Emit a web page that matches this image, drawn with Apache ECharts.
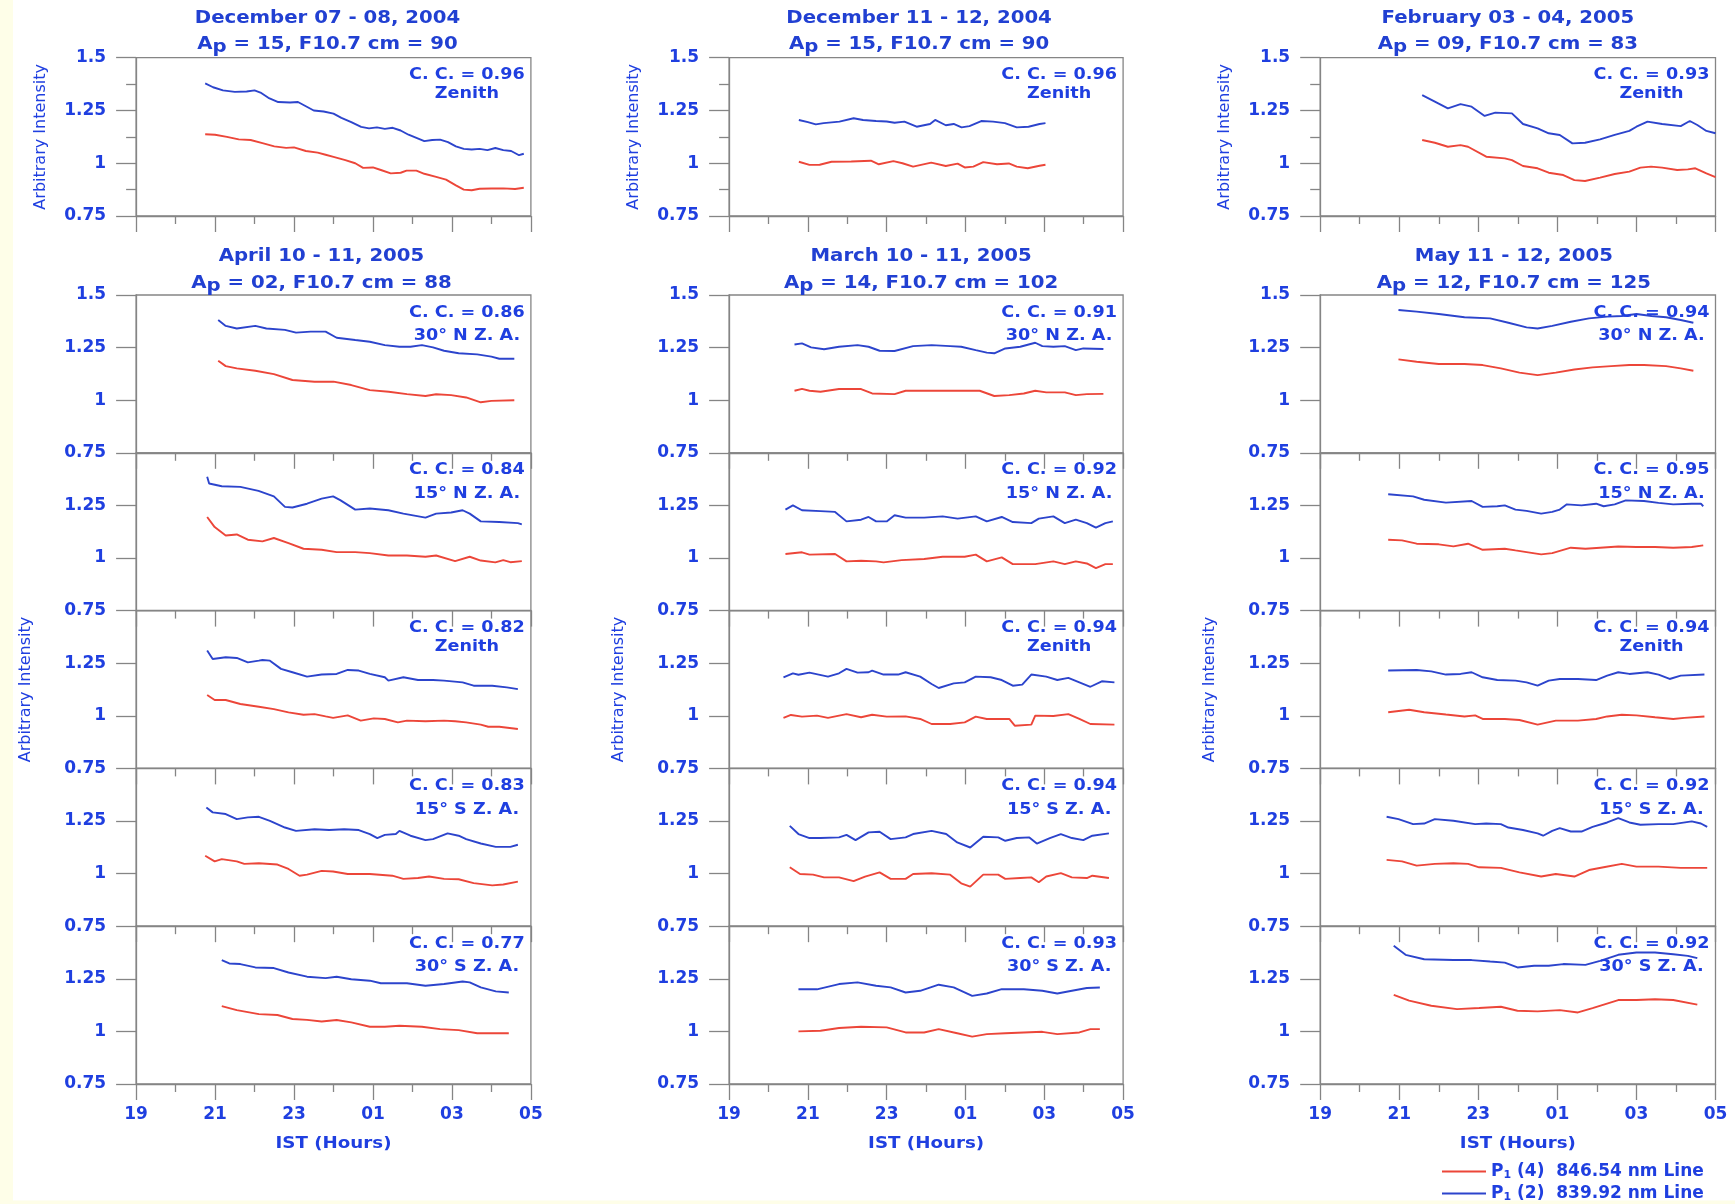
<!DOCTYPE html>
<html>
<head>
<meta charset="utf-8">
<script src="https://cdn.jsdelivr.net/npm/echarts@6/dist/echarts.min.js"></script>
<style>
  html, body { margin: 0; padding: 0; background: #fff; }
  #main { width: 1735px; height: 1204px; }
</style>
</head>
<body>
<div id="main"></div>
<script>
// [IST hour, intensity]; hours past midnight run on as 24..29
var dec0708Blue = [[20.75,1.378],[20.95,1.36],[21.2,1.345],[21.5,1.338],[21.8,1.34],[22.0,1.345],[22.15,1.335],[22.35,1.31],[22.6,1.29],[22.9,1.288],[23.1,1.29],[23.3,1.27],[23.5,1.25],[23.75,1.245],[24.0,1.235],[24.2,1.215],[24.45,1.195],[24.7,1.172],[24.9,1.165],[25.1,1.17],[25.3,1.163],[25.5,1.168],[25.7,1.155],[25.9,1.135],[26.1,1.12],[26.3,1.105],[26.5,1.11],[26.7,1.112],[26.9,1.1],[27.1,1.08],[27.3,1.068],[27.5,1.065],[27.7,1.068],[27.9,1.062],[28.1,1.072],[28.3,1.062],[28.5,1.058],[28.7,1.038],[28.82,1.045]];
var dec0708Red = [[20.75,1.137],[21.0,1.135],[21.3,1.125],[21.6,1.113],[21.9,1.11],[22.2,1.095],[22.5,1.08],[22.8,1.073],[23.0,1.075],[23.3,1.058],[23.6,1.05],[23.8,1.04],[24.0,1.03],[24.3,1.015],[24.55,1.0],[24.75,0.978],[25.0,0.98],[25.2,0.968],[25.45,0.952],[25.7,0.955],[25.85,0.965],[26.1,0.965],[26.3,0.95],[26.6,0.935],[26.85,0.922],[27.1,0.895],[27.3,0.875],[27.5,0.872],[27.7,0.879],[28.0,0.88],[28.3,0.881],[28.6,0.878],[28.82,0.884]];
var dec1112Blue = [[20.77,1.205],[21.0,1.195],[21.2,1.184],[21.4,1.19],[21.8,1.197],[22.16,1.213],[22.4,1.205],[22.73,1.2],[23.0,1.198],[23.2,1.192],[23.45,1.197],[23.76,1.173],[24.1,1.186],[24.23,1.205],[24.5,1.18],[24.7,1.186],[24.9,1.17],[25.1,1.176],[25.4,1.2],[25.7,1.197],[26.0,1.19],[26.3,1.17],[26.6,1.173],[26.88,1.186],[27.03,1.19]];
var dec1112Red = [[20.77,1.007],[21.04,0.992],[21.3,0.993],[21.6,1.007],[22.1,1.008],[22.6,1.012],[22.8,0.995],[23.17,1.01],[23.4,1.0],[23.67,0.984],[24.13,1.003],[24.5,0.987],[24.8,0.998],[24.98,0.98],[25.2,0.984],[25.45,1.005],[25.8,0.995],[26.1,0.999],[26.3,0.984],[26.58,0.976],[26.88,0.988],[27.03,0.993]];
var feb0304Blue = [[21.58,1.323],[21.9,1.292],[22.23,1.26],[22.55,1.28],[22.83,1.268],[23.16,1.224],[23.43,1.24],[23.85,1.236],[24.13,1.186],[24.5,1.165],[24.78,1.142],[25.06,1.134],[25.38,1.094],[25.7,1.097],[26.08,1.113],[26.45,1.134],[26.82,1.153],[27.0,1.173],[27.28,1.197],[27.65,1.186],[28.12,1.176],[28.35,1.2],[28.54,1.181],[28.77,1.153],[29.0,1.142]];
var feb0304Red = [[21.58,1.11],[21.9,1.097],[22.23,1.078],[22.55,1.086],[22.74,1.078],[23.2,1.031],[23.67,1.023],[23.85,1.015],[24.13,0.987],[24.5,0.976],[24.78,0.955],[25.15,0.944],[25.43,0.92],[25.7,0.916],[26.08,0.932],[26.45,0.949],[26.82,0.96],[27.1,0.979],[27.37,0.984],[27.65,0.979],[28.03,0.968],[28.3,0.971],[28.49,0.976],[28.77,0.952],[29.0,0.934]];

var apr30nBlue = [[21.08,1.381],[21.27,1.353],[21.55,1.341],[22.02,1.353],[22.3,1.341],[22.77,1.334],[23.05,1.321],[23.42,1.326],[23.8,1.326],[24.08,1.297],[24.55,1.286],[24.92,1.278],[25.3,1.262],[25.67,1.254],[25.95,1.254],[26.24,1.262],[26.52,1.251],[26.8,1.235],[27.17,1.223],[27.64,1.218],[28.0,1.207],[28.2,1.197],[28.58,1.197]];
var apr30nRed = [[21.08,1.188],[21.27,1.162],[21.55,1.151],[22.02,1.14],[22.49,1.124],[22.96,1.096],[23.52,1.088],[24.0,1.088],[24.45,1.072],[24.92,1.048],[25.4,1.04],[25.86,1.029],[26.33,1.02],[26.6,1.028],[26.98,1.024],[27.36,1.013],[27.73,0.99],[28.0,0.997],[28.58,1.0]];
var apr15nBlue = [[20.8,1.386],[20.85,1.354],[21.17,1.341],[21.64,1.338],[22.1,1.319],[22.49,1.293],[22.77,1.243],[22.96,1.24],[23.33,1.258],[23.7,1.282],[23.99,1.293],[24.17,1.275],[24.55,1.23],[24.92,1.235],[25.39,1.227],[25.77,1.211],[26.33,1.192],[26.6,1.211],[26.98,1.216],[27.27,1.227],[27.45,1.211],[27.73,1.174],[28.2,1.171],[28.67,1.166],[28.77,1.16]];
var apr15nRed = [[20.8,1.195],[20.99,1.147],[21.27,1.107],[21.55,1.112],[21.83,1.087],[22.2,1.079],[22.49,1.095],[22.86,1.071],[23.24,1.044],[23.7,1.039],[24.08,1.028],[24.55,1.028],[24.92,1.023],[25.39,1.012],[25.86,1.012],[26.33,1.006],[26.6,1.012],[27.08,0.985],[27.45,1.006],[27.73,0.988],[28.1,0.979],[28.3,0.99],[28.48,0.98],[28.77,0.985]];
var aprZenBlue = [[20.8,1.31],[20.94,1.27],[21.27,1.278],[21.55,1.275],[21.83,1.254],[22.11,1.262],[22.2,1.265],[22.39,1.262],[22.67,1.223],[22.96,1.207],[23.33,1.186],[23.7,1.196],[24.08,1.199],[24.36,1.218],[24.64,1.215],[24.92,1.199],[25.3,1.183],[25.39,1.167],[25.77,1.183],[26.14,1.17],[26.52,1.17],[26.8,1.167],[27.27,1.159],[27.55,1.143],[28.02,1.143],[28.39,1.135],[28.67,1.127]];
var aprZenRed = [[20.8,1.099],[20.99,1.075],[21.27,1.075],[21.64,1.056],[22.11,1.043],[22.49,1.032],[22.86,1.016],[23.24,1.005],[23.52,1.008],[23.8,0.997],[23.99,0.99],[24.36,1.002],[24.69,0.977],[25.02,0.988],[25.3,0.985],[25.63,0.969],[25.86,0.977],[26.33,0.974],[26.8,0.977],[27.08,0.974],[27.36,0.969],[27.73,0.958],[27.92,0.948],[28.2,0.948],[28.67,0.937]];
var apr15sBlue = [[20.78,1.314],[20.94,1.291],[21.27,1.283],[21.55,1.259],[21.83,1.267],[22.11,1.27],[22.39,1.251],[22.77,1.219],[23.05,1.203],[23.52,1.211],[23.89,1.207],[24.27,1.211],[24.64,1.207],[24.92,1.188],[25.11,1.169],[25.3,1.184],[25.58,1.188],[25.67,1.203],[25.95,1.18],[26.33,1.159],[26.52,1.164],[26.89,1.191],[27.17,1.18],[27.36,1.164],[27.73,1.143],[28.11,1.127],[28.48,1.127],[28.67,1.137]];
var apr15sRed = [[20.75,1.085],[20.99,1.058],[21.17,1.069],[21.55,1.058],[21.74,1.046],[22.11,1.049],[22.58,1.043],[22.86,1.022],[23.14,0.99],[23.33,0.995],[23.7,1.013],[23.99,1.01],[24.36,0.998],[24.92,0.998],[25.49,0.99],[25.77,0.975],[26.14,0.979],[26.42,0.986],[26.8,0.975],[27.17,0.973],[27.55,0.955],[28.02,0.944],[28.3,0.948],[28.67,0.962]];
var apr30sBlue = [[21.17,1.339],[21.36,1.323],[21.64,1.32],[22.02,1.304],[22.49,1.301],[22.86,1.28],[23.33,1.26],[23.8,1.253],[24.08,1.26],[24.45,1.248],[24.92,1.241],[25.2,1.229],[25.86,1.229],[26.33,1.217],[26.8,1.225],[27.27,1.237],[27.45,1.233],[27.73,1.209],[28.11,1.19],[28.44,1.185]];
var apr30sRed = [[21.17,1.12],[21.55,1.101],[22.11,1.082],[22.58,1.078],[22.96,1.059],[23.33,1.055],[23.7,1.047],[24.08,1.054],[24.45,1.043],[24.92,1.022],[25.3,1.022],[25.67,1.027],[26.24,1.022],[26.7,1.011],[27.17,1.006],[27.64,0.991],[28.44,0.991]];

var mar30nBlue = [[20.66,1.265],[20.85,1.27],[21.08,1.251],[21.41,1.242],[21.79,1.254],[22.26,1.262],[22.54,1.254],[22.82,1.235],[23.2,1.234],[23.67,1.257],[24.14,1.262],[24.61,1.257],[24.89,1.254],[25.26,1.238],[25.54,1.226],[25.73,1.223],[26.01,1.246],[26.39,1.254],[26.77,1.273],[26.95,1.257],[27.23,1.254],[27.52,1.257],[27.8,1.238],[27.99,1.246],[28.5,1.243]];
var mar30nRed = [[20.66,1.045],[20.85,1.054],[21.04,1.045],[21.32,1.04],[21.79,1.053],[22.35,1.053],[22.63,1.032],[23.2,1.029],[23.48,1.045],[24.14,1.045],[25.36,1.045],[25.73,1.02],[26.11,1.024],[26.48,1.032],[26.77,1.045],[27.05,1.037],[27.52,1.037],[27.8,1.024],[28.08,1.029],[28.5,1.03]];
var mar15nBlue = [[20.43,1.23],[20.62,1.25],[20.85,1.227],[21.32,1.223],[21.69,1.219],[21.98,1.174],[22.35,1.182],[22.54,1.195],[22.73,1.174],[23.0,1.174],[23.2,1.203],[23.48,1.192],[23.95,1.192],[24.42,1.198],[24.8,1.187],[25.26,1.198],[25.54,1.174],[25.92,1.195],[26.2,1.171],[26.67,1.166],[26.86,1.187],[27.23,1.198],[27.52,1.166],[27.8,1.182],[28.08,1.166],[28.31,1.144],[28.55,1.166],[28.74,1.174]];
var mar15nRed = [[20.43,1.019],[20.85,1.027],[21.04,1.016],[21.69,1.019],[21.98,0.984],[22.35,0.987],[22.73,0.984],[22.92,0.979],[23.38,0.99],[23.95,0.995],[24.42,1.006],[24.98,1.006],[25.26,1.016],[25.54,0.984],[25.92,1.003],[26.2,0.971],[26.77,0.971],[27.23,0.984],[27.52,0.971],[27.8,0.984],[28.08,0.974],[28.31,0.952],[28.55,0.971],[28.74,0.971]];
var marZenBlue = [[20.38,1.183],[20.62,1.202],[20.76,1.195],[21.04,1.205],[21.51,1.186],[21.79,1.202],[21.98,1.223],[22.26,1.205],[22.54,1.207],[22.63,1.215],[22.92,1.196],[23.29,1.196],[23.48,1.207],[23.85,1.186],[24.14,1.151],[24.32,1.132],[24.7,1.154],[24.98,1.159],[25.26,1.186],[25.64,1.183],[25.92,1.17],[26.2,1.143],[26.44,1.148],[26.67,1.196],[27.05,1.186],[27.33,1.17],[27.61,1.18],[27.89,1.159],[28.17,1.138],[28.46,1.164],[28.78,1.159]];
var marZenRed = [[20.38,0.99],[20.57,1.004],[20.85,0.996],[21.23,1.001],[21.51,0.99],[21.98,1.008],[22.35,0.993],[22.63,1.005],[23.0,0.996],[23.48,0.997],[23.85,0.985],[24.14,0.961],[24.61,0.961],[24.98,0.969],[25.26,0.996],[25.54,0.985],[26.11,0.985],[26.25,0.953],[26.67,0.958],[26.77,1.001],[27.23,0.999],[27.61,1.008],[27.89,0.985],[28.17,0.961],[28.78,0.958]];
var mar15sBlue = [[20.54,1.227],[20.76,1.188],[21.04,1.169],[21.32,1.169],[21.79,1.172],[21.98,1.184],[22.21,1.159],[22.54,1.196],[22.82,1.199],[23.1,1.164],[23.48,1.172],[23.67,1.188],[24.14,1.203],[24.51,1.188],[24.79,1.148],[25.12,1.124],[25.45,1.175],[25.83,1.172],[26.01,1.156],[26.3,1.169],[26.62,1.172],[26.81,1.143],[27.14,1.169],[27.42,1.188],[27.7,1.169],[27.99,1.159],[28.22,1.18],[28.64,1.191]];
var mar15sRed = [[20.54,1.03],[20.8,0.998],[21.13,0.995],[21.41,0.982],[21.79,0.982],[22.16,0.964],[22.45,0.986],[22.82,1.006],[23.1,0.975],[23.48,0.975],[23.67,0.998],[24.14,1.002],[24.61,0.995],[24.89,0.954],[25.12,0.938],[25.45,0.995],[25.83,0.995],[26.01,0.975],[26.39,0.979],[26.67,0.982],[26.86,0.959],[27.05,0.986],[27.42,1.002],[27.7,0.982],[28.08,0.979],[28.22,0.99],[28.64,0.979]];
var mar30sBlue = [[20.76,1.2],[21.23,1.2],[21.79,1.225],[22.26,1.233],[22.73,1.217],[23.1,1.209],[23.48,1.185],[23.85,1.193],[24.32,1.222],[24.7,1.209],[25.17,1.169],[25.54,1.18],[25.92,1.201],[26.48,1.2],[26.95,1.193],[27.33,1.18],[27.7,1.193],[28.08,1.206],[28.41,1.209]];
var mar30sRed = [[20.76,1.0],[21.32,1.003],[21.79,1.016],[22.35,1.022],[23.0,1.019],[23.48,0.995],[23.95,0.995],[24.32,1.011],[24.79,0.991],[25.17,0.975],[25.54,0.987],[26.01,0.991],[26.48,0.995],[26.95,0.998],[27.33,0.987],[27.89,0.995],[28.17,1.011],[28.41,1.011]];

var may30nBlue = [[20.98,1.429],[21.44,1.421],[22.0,1.41],[22.65,1.394],[23.3,1.389],[23.76,1.368],[24.22,1.346],[24.5,1.341],[24.87,1.353],[25.34,1.373],[25.8,1.389],[26.26,1.397],[26.63,1.4],[27.0,1.41],[27.38,1.4],[27.75,1.394],[28.12,1.381],[28.44,1.368]];
var may30nRed = [[20.98,1.194],[21.44,1.183],[22.0,1.172],[22.65,1.172],[23.11,1.167],[23.57,1.151],[24.04,1.131],[24.5,1.119],[24.96,1.131],[25.43,1.146],[25.89,1.156],[26.36,1.162],[26.82,1.167],[27.19,1.167],[27.75,1.162],[28.12,1.151],[28.44,1.14]];
var may15nBlue = [[20.72,1.303],[21.35,1.293],[21.63,1.277],[22.18,1.263],[22.83,1.271],[23.11,1.243],[23.48,1.246],[23.67,1.25],[23.94,1.23],[24.22,1.224],[24.59,1.211],[24.87,1.219],[25.06,1.23],[25.24,1.255],[25.61,1.25],[25.98,1.258],[26.17,1.246],[26.45,1.255],[26.73,1.274],[27.19,1.271],[27.56,1.262],[27.93,1.255],[28.4,1.258],[28.63,1.258],[28.69,1.246]];
var may15nRed = [[20.72,1.087],[21.07,1.084],[21.44,1.068],[22.0,1.065],[22.37,1.055],[22.74,1.068],[23.11,1.039],[23.67,1.044],[23.94,1.036],[24.22,1.028],[24.59,1.017],[24.87,1.023],[25.34,1.049],[25.71,1.044],[26.08,1.049],[26.54,1.055],[27.0,1.052],[27.47,1.052],[27.93,1.049],[28.4,1.052],[28.69,1.06]];
var mayZenBlue = [[20.72,1.215],[21.44,1.218],[21.81,1.211],[22.18,1.196],[22.55,1.199],[22.83,1.207],[23.11,1.183],[23.48,1.17],[23.94,1.167],[24.22,1.159],[24.5,1.143],[24.78,1.167],[25.06,1.175],[25.52,1.175],[25.98,1.17],[26.26,1.191],[26.54,1.207],[26.82,1.199],[27.28,1.207],[27.56,1.196],[27.84,1.175],[28.12,1.191],[28.72,1.196]];
var mayZenRed = [[20.72,1.017],[21.25,1.029],[21.63,1.017],[22.18,1.006],[22.65,0.997],[22.92,1.002],[23.11,0.985],[23.67,0.985],[24.04,0.98],[24.5,0.958],[24.96,0.977],[25.52,0.977],[25.98,0.985],[26.26,0.997],[26.63,1.005],[27.0,1.002],[27.47,0.993],[27.93,0.985],[28.21,0.99],[28.72,0.997]];
var may15sBlue = [[20.68,1.27],[20.98,1.259],[21.35,1.235],[21.63,1.238],[21.9,1.259],[22.37,1.251],[22.92,1.235],[23.2,1.238],[23.57,1.235],[23.76,1.219],[24.13,1.207],[24.5,1.191],[24.64,1.18],[24.87,1.203],[25.06,1.216],[25.34,1.2],[25.61,1.2],[25.89,1.222],[26.26,1.243],[26.54,1.264],[26.82,1.243],[27.1,1.232],[27.56,1.235],[27.93,1.235],[28.4,1.248],[28.63,1.238],[28.79,1.222]];
var may15sRed = [[20.68,1.065],[21.07,1.058],[21.44,1.038],[21.9,1.046],[22.37,1.049],[22.74,1.046],[23.02,1.03],[23.57,1.027],[24.04,1.006],[24.59,0.986],[24.96,0.998],[25.43,0.986],[25.8,1.017],[26.17,1.03],[26.63,1.046],[27.0,1.033],[27.56,1.033],[28.12,1.027],[28.79,1.027]];
var may30sBlue = [[20.86,1.407],[21.16,1.364],[21.63,1.343],[22.37,1.339],[22.83,1.339],[23.3,1.332],[23.67,1.327],[23.99,1.304],[24.41,1.312],[24.78,1.312],[25.15,1.32],[25.71,1.316],[26.08,1.335],[26.54,1.364],[27.0,1.375],[27.47,1.375],[27.93,1.367],[28.3,1.359],[28.54,1.348]];
var may30sRed = [[20.86,1.174],[21.25,1.146],[21.81,1.122],[22.46,1.106],[23.02,1.111],[23.57,1.117],[23.99,1.098],[24.5,1.095],[25.06,1.101],[25.52,1.09],[25.89,1.111],[26.54,1.149],[27.0,1.149],[27.47,1.153],[27.93,1.149],[28.54,1.127]];

var topTitles = ['December 07 - 08, 2004', 'December 11 - 12, 2004', 'February 03 - 04, 2005'];
var topIndices = [' = 15, F10.7 cm = 90', ' = 15, F10.7 cm = 90', ' = 09, F10.7 cm = 83'];
var topCC = ['0.96', '0.96', '0.93'];
var stackTitles = ['April 10 - 11, 2005', 'March 10 - 11, 2005', 'May 11 - 12, 2005'];
var stackIndices = [' = 02, F10.7 cm = 88', ' = 14, F10.7 cm = 102', ' = 12, F10.7 cm = 125'];
var stackCC = [
  ['0.86', '0.84', '0.82', '0.83', '0.77'],
  ['0.91', '0.92', '0.94', '0.94', '0.93'],
  ['0.94', '0.95', '0.94', '0.92', '0.92']
];
var directions = ['30° N Z. A.', '15° N Z. A.', 'Zenith', '15° S Z. A.', '30° S Z. A.'];
var yTicks = [0.75, 1.5, 0.25];
var xTicks = [19, 29, 2]; // IST 19 h .. 05 h, labelled every 2 hours
var lineNames = ['P1 (4)  846.54 nm Line', 'P1 (2)  839.92 nm Line'];

var topRed = [dec0708Red, dec1112Red, feb0304Red];
var topBlue = [dec0708Blue, dec1112Blue, feb0304Blue];
var stackRed = [
  [apr30nRed, apr15nRed, aprZenRed, apr15sRed, apr30sRed],
  [mar30nRed, mar15nRed, marZenRed, mar15sRed, mar30sRed],
  [may30nRed, may15nRed, mayZenRed, may15sRed, may30sRed]
];
var stackBlue = [
  [apr30nBlue, apr15nBlue, aprZenBlue, apr15sBlue, apr30sBlue],
  [mar30nBlue, mar15nBlue, marZenBlue, mar15sBlue, mar30sBlue],
  [may30nBlue, may15nBlue, mayZenBlue, may15sBlue, may30sBlue]
];

var FONT = 'DejaVu Sans';
var TXT = '#1f3fe0';
var TITLE = '#2140d2';
var AXIS = '#858585';
var RED = '#ec4639';
var BLUE = '#2c44cc';
var YELLOW = '#fefee8';

var colLeft = [136.1, 729.1, 1320.2];
var colRight = [530.9, 1123.1, 1715.5];
var topShift = [-6, -7, -10];
var stackShift = [-12, -5, -4];
var topRowTop = 57.7, topRowH = 158.3;
var stackTop = 295, stackH = 157.8;
var WIDEN = 1.12; // the scanned lettering is stretched sideways

var grids = [], xAxes = [], yAxes = [], series = [], graphics = [];

function hourLabel(v) {
  var h = (v + xTicks[0]) % 24;
  return (h < 10 ? '0' : '') + h;
}

function text(x, y, str, size, color, weight, extra) {
  var el = {
    type: 'text', x: x, y: y, z: 50, scaleX: WIDEN,
    style: {
      text: str, fill: color,
      font: (weight || 'bold') + ' ' + size + 'px "' + FONT + '"',
      textAlign: 'center', textVerticalAlign: 'middle',
      align: 'center', verticalAlign: 'middle'
    }
  };
  if (extra) Object.assign(el, extra);
  return el;
}

function apText(x, y, rest) {
  var base = { fontFamily: FONT, fontWeight: 'bold', fontSize: 17, fill: TITLE };
  return {
    type: 'text', x: x, y: y, z: 50, scaleX: 1.16,
    style: {
      text: '{a|A}{p|p}{a|' + rest + '}',
      textAlign: 'center', textVerticalAlign: 'middle',
      align: 'center', verticalAlign: 'middle',
      rich: {
        a: base,
        p: Object.assign({}, base, { padding: [6, 0, 0, 0] })
      }
    }
  };
}

function addPanel(c, top, h, red, blue, cc, dir, opt) {
  var i = grids.length;
  var w = colRight[c] - colLeft[c];
  grids.push({
    left: colLeft[c], top: top, width: w, height: h,
    show: true, borderColor: AXIS, borderWidth: 1.3, backgroundColor: 'transparent'
  });
  xAxes.push({
    gridIndex: i, type: 'value',
    min: 0, max: xTicks[1] - xTicks[0], interval: xTicks[2],
    axisLine: { lineStyle: { color: AXIS, width: 1.3 } },
    axisTick: { length: 16, lineStyle: { color: AXIS, width: 1.3 } },
    minorTick: { show: true, splitNumber: 2, length: 8, lineStyle: { color: AXIS, width: 1.3 } },
    splitLine: { show: false }, minorSplitLine: { show: false },
    axisLabel: {
      show: opt.xLabels, margin: 22, color: TXT, fontFamily: FONT,
      fontWeight: 'bold', fontSize: 17, formatter: hourLabel
    }
  });
  yAxes.push({
    gridIndex: i, type: 'value',
    min: yTicks[0], max: yTicks[1], interval: yTicks[2],
    axisLine: { show: true, lineStyle: { color: AXIS, width: 1.3 } },
    axisTick: { show: true, length: 20, lineStyle: { color: AXIS, width: 1.3 } },
    minorTick: { show: opt.minorY, splitNumber: 2, length: 10, lineStyle: { color: AXIS, width: 1.3 } },
    splitLine: { show: false }, minorSplitLine: { show: false },
    axisLabel: {
      margin: 30, color: TXT, fontFamily: FONT, fontWeight: 'bold', fontSize: 17,
      showMaxLabel: opt.showMax
    }
  });
  [[red, RED, lineNames[0]], [blue, BLUE, lineNames[1]]].forEach(function (s) {
    series.push({
      type: 'line', name: s[2], xAxisIndex: i, yAxisIndex: i,
      data: s[0].map(function (p) { return [p[0] - xTicks[0], p[1]]; }),
      showSymbol: false, symbol: 'none', animation: false,
      lineStyle: { color: s[1], width: 1.9 },
      itemStyle: { color: s[1] }
    });
  });
  var cx = colRight[c] - 64;
  graphics.push(text(cx, top + 17.5, 'C. C. = ' + cc, 16, TXT, 'bold', { scaleX: 1.1 }));
  graphics.push(text(cx, top + (dir === 'Zenith' ? 36 : 41), dir, 16, TXT, 'bold', { scaleX: 1.1 }));
  if (opt.yName) {
    graphics.push(text(colLeft[c] - opt.yName, top + h / 2, 'Arbitrary Intensity', 16, TXT, 'normal',
      { rotation: Math.PI / 2, scaleX: 1 }));
  }
  if (opt.xLabels) {
    graphics.push(text(colLeft[c] + w / 2, top + h + 60, 'IST (Hours)', 16, TXT, 'bold', { scaleX: 1.14 }));
  }
}

for (var c = 0; c < 3; c++) {
  var mid = (colLeft[c] + colRight[c]) / 2;
  graphics.push(text(mid + topShift[c], 19, topTitles[c], 17, TITLE, 'bold', { scaleX: 1.16 }));
  graphics.push(apText(mid + topShift[c], 45, topIndices[c]));
  addPanel(c, topRowTop, topRowH, topRed[c], topBlue[c], topCC[c], 'Zenith',
    { minorY: true, showMax: true, xLabels: false, yName: 95.5 });

  graphics.push(text(mid + stackShift[c], 257, stackTitles[c], 17, TITLE, 'bold', { scaleX: 1.16 }));
  graphics.push(apText(mid + stackShift[c], 283.5, stackIndices[c]));
  for (var r = 0; r < 5; r++) {
    addPanel(c, stackTop + r * stackH, stackH, stackRed[c][r], stackBlue[c][r], stackCC[c][r], directions[r],
      { minorY: false, showMax: r === 0, xLabels: r === 4, yName: r === 2 ? 110 : 0 });
  }
}

// pale yellow page margins of the scan
graphics.push({ type: 'rect', z: 100, shape: { x: 0, y: 0, width: 13, height: 1204 }, style: { fill: YELLOW } });
graphics.push({ type: 'rect', z: 100, shape: { x: 0, y: 1200.5, width: 1735, height: 4 }, style: { fill: YELLOW } });

var chart = echarts.init(document.getElementById('main'));
chart.setOption({
  backgroundColor: '#ffffff',
  animation: false,
  grid: grids,
  xAxis: xAxes,
  yAxis: yAxes,
  series: series,
  graphic: { elements: graphics },
  legend: {
    data: lineNames,
    orient: 'vertical',
    left: 1442, top: 1163, height: 120, padding: 0,
    icon: 'rect', itemWidth: 44, itemHeight: 2, itemGap: 4,
    selectedMode: false,
    formatter: function (name) {
      return '{p|P}{s|1}{t|' + name.slice(2) + '}';
    },
    textStyle: {
      color: TXT, fontFamily: FONT, fontWeight: 'bold', fontSize: 17,
      rich: {
        p: { color: TXT, fontFamily: FONT, fontWeight: 'bold', fontSize: 17 },
        s: { color: TXT, fontFamily: FONT, fontWeight: 'bold', fontSize: 11, padding: [8, 0, 0, 0] },
        t: { color: TXT, fontFamily: FONT, fontWeight: 'bold', fontSize: 17 }
      }
    }
  }
});
</script>
</body>
</html>
